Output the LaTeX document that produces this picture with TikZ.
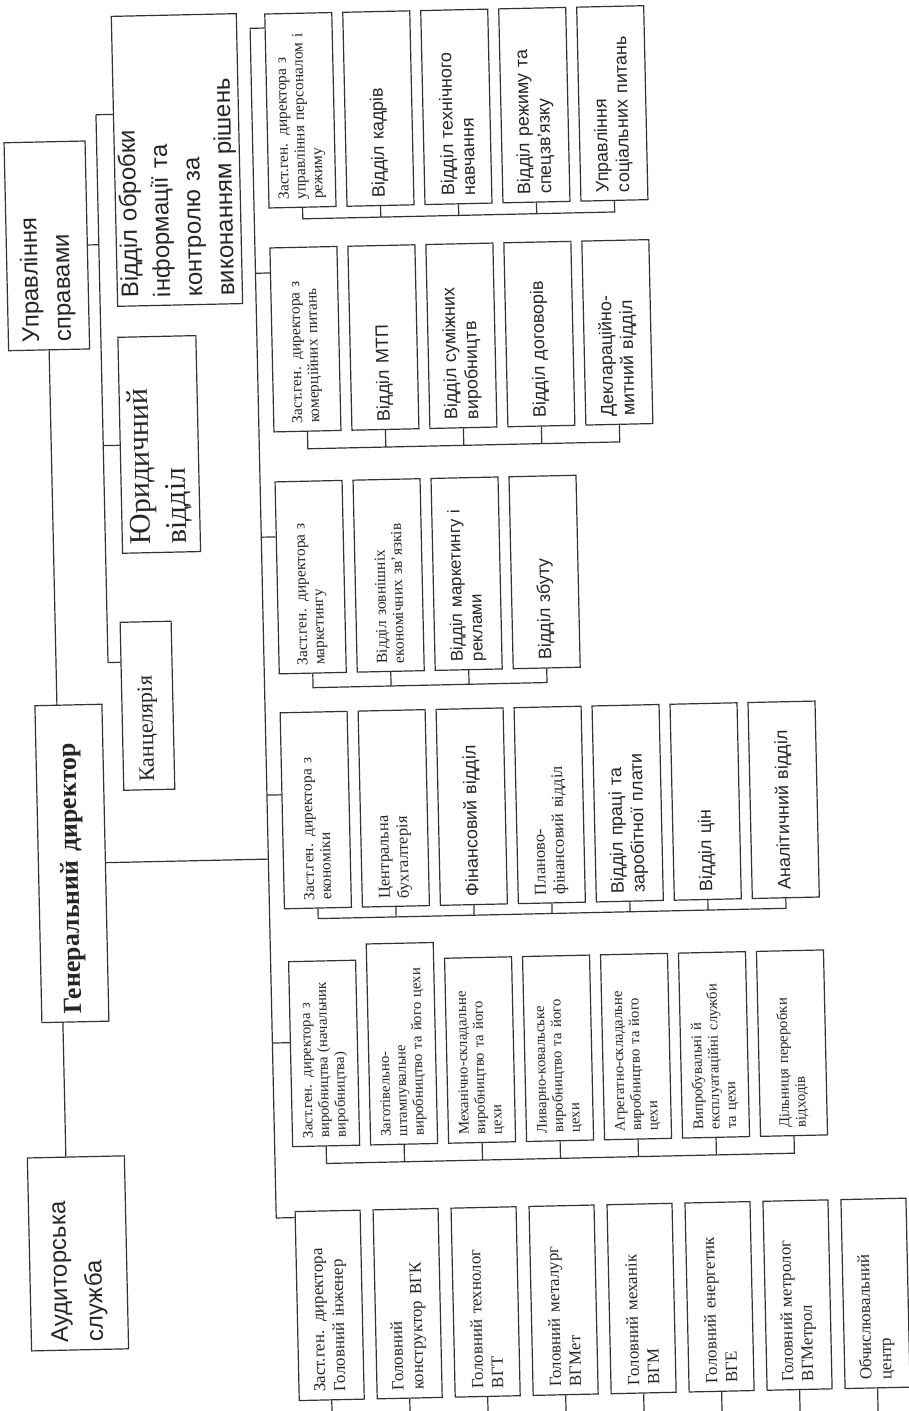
\documentclass[tikz,border=0pt]{standalone}
\usepackage{fontspec}
\setmainfont{Liberation Serif}
\setsansfont{Liberation Sans}
\usetikzlibrary{positioning, calc}

\begin{document}
\begin{tikzpicture}[x=1pt, y=-1pt,
		unit/.style={draw=black!80, line width=1.2pt, rectangle, rotate=90, align=left,
			inner xsep=8pt, inner ysep=0pt, text=black!85},
		sized/.style 2 args={minimum width=#1, minimum height=#2, text width=#1-16},
		link/.style={draw=black!80, line width=1.2pt},
		bigsf/.style={font=\sffamily\fontsize{24}{32}\selectfont},
		bigrm/.style={font=\rmfamily\fontsize{30}{36}\selectfont},
		midsf/.style={font=\sffamily\fontsize{18}{21}\selectfont},
		midrm/.style={font=\rmfamily\fontsize{16.5}{19}\selectfont},
		smrm/.style={font=\rmfamily\fontsize{15.5}{17}\selectfont},
		prodrm/.style={font=\rmfamily\fontsize{14.8}{16.5}\selectfont},
		headrm/.style={font=\rmfamily\fontsize{17}{20}\selectfont}]
		
		\fill[white] (0,0) rectangle (909,1411);
		\useasboundingbox (0,0) rectangle (909,1411);
		
		%//the scan is slightly turned
		\begin{scope}[rotate around={1.26:(454,705)}, transform shape]
		
		%//left column
		\node[unit, bigsf, sized={208}{81}] (usp) at (57,237) {Управління\\справами};
		\node[unit, bigsf, sized={290}{125}] (obr) at (189,154) {Відділ обробки\\інформації та\\контролю за\\виконанням рішень};
		\node[unit, bigrm, sized={216}{78}] (yur) at (165,438) {Юридичний\\відділ};
		\node[unit, font=\rmfamily\fontsize{22}{26}\selectfont, sized={168}{51}] (kanc) at (147.5,699) {Канцелярія};
		\node[unit, font=\rmfamily\bfseries\fontsize{26}{30}\selectfont, sized={317}{67}] (gen) at (68.5,855) {Генеральний директор};
		\node[unit, font=\sffamily\fontsize{24}{35}\selectfont, sized={193}{97}] (aud) at (66,1245) {Аудиторська\\служба};
		
		\draw[link] (usp.west) -- ++(0,355.5);
		\draw[link] ([xshift=-12.5pt]gen.west) -- ++(0,135);
		
		\coordinate (lb1) at (109,107);
		\coordinate (lb2) at (109,655);
		\draw[link] (lb1) -- (lb2);
		\draw[link] (lb1) -- (lb1 -| obr.north);
		\draw[link] (usp.south) -- (usp.south -| lb1);
		\draw[link] (yur.north -| lb1) -- (yur.north);
		\draw[link] (lb2) -- (lb2 -| kanc.north);
		
		%//spine
		\coordinate (sp1) at (265,24);
		\coordinate (sp2) at (265,269);
		\coordinate (sp3) at (265,533);
		\coordinate (sp4) at (265,791);
		\coordinate (sp5) at (265,1039);
		\coordinate (sp6) at (265,1214);
		\draw[link] (sp1) -- (sp6);
		\draw[link] (gen.south) -- ++(163,0);
		
		%//band 1 : personnel
		\node[unit, smrm, sized={194}{67}] (a1) at (313.5,107) {Заст.ген. директора з\\управління персоналом і\\режиму};
		\node[unit, midsf, sized={194}{67}] (a2) at (391.5,107) {Відділ кадрів};
		\node[unit, midsf, sized={194}{67}] (a3) at (469.5,107) {Відділ технічного\\навчання};
		\node[unit, midsf, sized={194}{67}] (a4) at (547.5,107) {Відділ режиму та\\спецзв'язку};
		\node[unit, midsf, sized={194}{67}] (a5) at (625.5,107) {Управління\\соціальних питань};
		
		\draw[link] (sp1) -- (sp1 -| a1.north);
		\draw[link] (a1.west) -- ++(0,11) -- ++(312,0) -- (a5.west);
		\foreach \n in {a2,a3,a4}
		\draw[link] (\n.west) -- ++(0,11);
		
		%//band 2 : commerce
		\node[unit, smrm, sized={184}{67}] (b1) at (313.5,336) {Заст.ген. директора з\\комерційних питань};
		\node[unit, midsf, sized={184}{67}] (b2) at (391.5,336) {Відділ МТП};
		\node[unit, midsf, sized={184}{67}] (b3) at (469.5,336) {Відділ суміжних\\виробництв};
		\node[unit, midsf, sized={184}{67}] (b4) at (547.5,336) {Відділ договорів};
		\node[unit, midsf, sized={184}{67}] (b5) at (625.5,336) {Деклараційно-\\митний відділ};
		
		\draw[link] (sp2) -- (sp2 -| b1.north);
		\draw[link] (b1.west) -- ++(0,17) -- ++(312,0) -- (b5.west);
		\foreach \n in {b2,b3,b4}
		\draw[link] (\n.west) -- ++(0,17);
		
		%//band 3 : marketing
		\node[unit, smrm, sized={192}{67}] (c1) at (313.5,574) {Заст.ген. директора з\\маркетингу};
		\node[unit, smrm, sized={192}{67}] (c2) at (391.5,574) {Відділ зовнішніх\\економічних зв'язків};
		\node[unit, font=\sffamily\fontsize{17}{20}\selectfont, sized={192}{67}] (c3) at (469.5,574) {Відділ маркетингу і\\реклами};
		\node[unit, midsf, sized={192}{67}] (c4) at (547.5,574) {Відділ збуту};
		
		\draw[link] (sp3) -- (sp3 -| c1.north);
		\draw[link] (c1.west) -- ++(0,14) -- ++(234,0) -- (c4.west);
		\foreach \n in {c2,c3}
		\draw[link] (\n.west) -- ++(0,14);
		
		%//band 4 : economics
		\node[unit, smrm, sized={196}{67}] (d1) at (313.5,807) {Заст.ген. директора з\\економіки};
		\node[unit, midrm, sized={196}{67}] (d2) at (391.5,807) {Центральна\\бухгалтерія};
		\node[unit, midsf, sized={196}{67}] (d3) at (469.5,807) {Фінансовий відділ};
		\node[unit, midrm, sized={196}{67}] (d4) at (547.5,807) {Планово-\\фінансовий відділ};
		\node[unit, midsf, sized={196}{67}] (d5) at (625.5,807) {Відділ праці та\\заробітної плати};
		\node[unit, midsf, sized={196}{67}] (d6) at (703.5,807) {Відділ цін};
		\node[unit, midsf, sized={196}{67}] (d7) at (781.5,807) {Аналітичний відділ};
		
		\draw[link] (sp4) -- (sp4 -| d1.north);
		\draw[link] (d1.west) -- ++(0,10) -- ++(468,0) -- (d7.west);
		\foreach \n in {d2,d3,d4,d5,d6}
		\draw[link] (\n.west) -- ++(0,10);
		
		%//band 5 : production
		\node[unit, prodrm, sized={185}{67}] (e1) at (316.5,1050.5) {Заст.ген. директора з\\виробництва (начальник\\виробництва)};
		\node[unit, prodrm, sized={201}{67}] (e2) at (394.5,1042.5) {Заготівельно-\\штампувальне\\виробництво та його цехи};
		\node[unit, prodrm, sized={185}{67}] (e3) at (472.5,1050.5) {Механічно-складальне\\виробництво та його\\цехи};
		\node[unit, prodrm, sized={185}{67}] (e4) at (550.5,1050.5) {Ливарно-ковальське\\виробництво та його\\цехи};
		\node[unit, prodrm, sized={185}{67}] (e5) at (628.5,1050.5) {Агрегатно-складальне\\виробництво та його\\цехи};
		\node[unit, prodrm, sized={185}{67}] (e6) at (706.5,1050.5) {Випробувальні й\\експлуатаційні служби\\та цехи};
		\node[unit, prodrm, sized={185}{67}] (e7) at (784.5,1050.5) {Дільниця переробки\\відходів};
		
		\draw[link] (sp5) -- (sp5 -| e1.north);
		\draw[link] (e1.west) -- ++(0,17) -- ++(468,0) -- (e7.west);
		\foreach \n in {e2,e3,e4,e5,e6}
		\draw[link] (\n.west) -- ++(0,17);
		
		%//band 6 : engineering
		\node[unit, headrm, sized={189}{65}] (g1) at (316.5,1302.5) {Заст.ген. директора\\Головний інженер};
		\node[unit, headrm, sized={189}{65}] (g2) at (394.5,1302.5) {Головний\\конструктор ВГК};
		\node[unit, headrm, sized={189}{65}] (g3) at (472.5,1302.5) {Головний технолог\\ВГТ};
		\node[unit, headrm, sized={189}{65}] (g4) at (550.5,1302.5) {Головний металург\\ВГМет};
		\node[unit, headrm, sized={189}{65}] (g5) at (628.5,1302.5) {Головний механік\\ВГМ};
		\node[unit, headrm, sized={189}{65}] (g6) at (706.5,1302.5) {Головний енергетик\\ВГЕ};
		\node[unit, headrm, sized={189}{65}] (g7) at (784.5,1302.5) {Головний метролог\\ВГМетрол};
		\node[unit, headrm, sized={189}{65}] (g8) at (862.5,1302.5) {Обчислювальний\\центр};
		
		\draw[link] (sp6) -- (sp6 -| g1.north);
		\foreach \n in {g1,g2,g3,g4,g5,g6,g7,g8}
		\draw[link] (\n.west) -- ++(0,25);
		
		\end{scope}
		
	\end{tikzpicture}
\end{document}
